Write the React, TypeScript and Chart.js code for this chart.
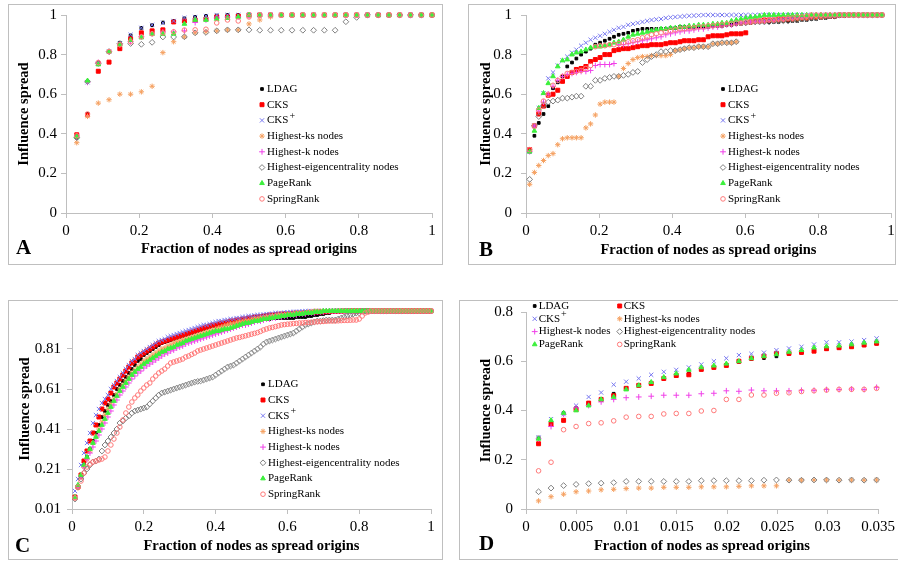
import React, { useEffect, useRef } from "react";
import { Chart, registerables } from "chart.js";
import { drawPoint } from "chart.js/helpers";

Chart.register(...registerables);

const FONT = '"Liberation Serif", "Times New Roman", serif';
const AXIS = "#bfbfbf";
Chart.defaults.font.family = FONT;

const SERIES_NAMES = [
  "LDAG",
  "CKS",
  "CKS+",
  "Highest-ks nodes",
  "Highest-k nodes",
  "Highest-eigencentrality nodes",
  "PageRank",
  "SpringRank",
];

type Marker = { style: string; r: number; color: string; fill: boolean };
const MARKERS: Marker[] = [
  { style: "rect", r: 1.9, color: "#000000", fill: true },
  { style: "rect", r: 2.8, color: "#ff0000", fill: true },
  { style: "crossRot", r: 3, color: "#7878f0", fill: false },
  { style: "star", r: 2.7, color: "#f5a060", fill: false },
  { style: "cross", r: 2.9, color: "#f040e8", fill: false },
  { style: "rectRot", r: 2.9, color: "#7f7f7f", fill: false },
  { style: "triangle", r: 2.7, color: "#3cf03c", fill: true },
  { style: "circle", r: 2.3, color: "#ff7878", fill: false },
];

const X_TITLE = "Fraction of nodes as spread origins";
const Y_TITLE = "Influence spread";

// ---------------- Panel A ----------------
const A_X = [0.0294, 0.0588, 0.0882, 0.1176, 0.1471, 0.1765, 0.2059, 0.2353, 0.2647, 0.2941,
  0.3235, 0.3529, 0.3824, 0.4118, 0.4412, 0.4706, 0.5, 0.5294, 0.5588, 0.5882,
  0.6176, 0.6471, 0.6765, 0.7059, 0.7353, 0.7647, 0.7941, 0.8235, 0.8529, 0.8824,
  0.9118, 0.9412, 0.9706, 1];
const A_LDAG = [0.38, 0.5, 0.757, 0.815, 0.86, 0.897, 0.935, 0.948, 0.962, 0.97,
  0.983, 0.99, 0.995, 0.997, 1, 1, 1, 1, 1, 1,
  1, 1, 1, 1, 1, 1, 1, 1, 1, 1,
  1, 1, 1, 1];
const A_CKS = [0.395, 0.495, 0.716, 0.762, 0.83, 0.88, 0.91, 0.92, 0.925, 0.965,
  0.97, 0.975, 0.98, 0.99, 0.99, 0.995, 1, 1, 1, 1,
  1, 1, 1, 1, 1, 1, 1, 1, 1, 1,
  1, 1, 1, 1];
const A_CKSP = [0.385, 0.66, 0.755, 0.815, 0.855, 0.9, 0.935, 0.95, 0.96, 0.97,
  0.985, 0.99, 0.995, 1, 1, 1, 1, 1, 1, 1,
  1, 1, 1, 1, 1, 1, 1, 1, 1, 1,
  1, 1, 1, 1];
const A_KS = [0.355, 0.488, 0.555, 0.572, 0.6, 0.6, 0.612, 0.64, 0.81, 0.865,
  0.89, 0.91, 0.915, 0.92, 0.925, 0.925, 0.955, 0.975, 0.99, 1,
  1, 1, 1, 1, 1, 1, 1, 1, 1, 1,
  1, 1, 1, 1];
const A_K = [0.385, 0.66, 0.76, 0.815, 0.85, 0.865, 0.89, 0.905, 0.915, 0.915,
  0.92, 0.962, 0.975, 0.985, 0.99, 0.99, 0.995, 1, 1, 1,
  1, 1, 1, 1, 1, 1, 1, 1, 1, 1,
  1, 1, 1, 1];
const A_EIG = [0.38, 0.665, 0.755, 0.815, 0.855, 0.856, 0.852, 0.862, 0.889, 0.889,
  0.89, 0.91, 0.912, 0.92, 0.925, 0.925, 0.925, 0.923, 0.923, 0.923,
  0.923, 0.923, 0.923, 0.923, 0.923, 0.966, 0.988, 1, 1, 1,
  1, 1, 1, 1];
const A_PR = [0.385, 0.668, 0.75, 0.815, 0.85, 0.874, 0.886, 0.904, 0.904, 0.905,
  0.955, 0.975, 0.975, 0.98, 0.985, 0.99, 1, 1, 1, 1,
  1, 1, 1, 1, 1, 1, 1, 1, 1, 1,
  1, 1, 1, 1];
const A_SR = [0.39, 0.5, 0.76, 0.815, 0.85, 0.865, 0.89, 0.905, 0.91, 0.915,
  0.924, 0.925, 0.928, 0.96, 0.975, 0.97, 0.99, 1, 1, 1,
  1, 1, 1, 1, 1, 1, 1, 1, 1, 1,
  1, 1, 1, 1];

// ---------------- Panel B ----------------
const B_X = [0.010, 0.023, 0.035, 0.048, 0.061, 0.074, 0.087, 0.100, 0.113, 0.126,
  0.138, 0.151, 0.164, 0.177, 0.190, 0.203, 0.216, 0.229, 0.241, 0.254,
  0.267, 0.280, 0.293, 0.306, 0.319, 0.332, 0.344, 0.357, 0.370, 0.383,
  0.396, 0.409, 0.422, 0.434, 0.447, 0.460, 0.473, 0.486, 0.499, 0.512,
  0.525, 0.537, 0.550, 0.563, 0.576, 0.589, 0.602, 0.615, 0.628, 0.640,
  0.653, 0.666, 0.679, 0.692, 0.705, 0.718, 0.730, 0.743, 0.756, 0.769,
  0.782, 0.795, 0.808, 0.821, 0.833, 0.846, 0.859, 0.872, 0.885, 0.898,
  0.911, 0.924, 0.936, 0.949, 0.962, 0.975];
const B_LDAG = [0.31, 0.39, 0.455, 0.50, 0.54, 0.63, 0.66, 0.69, 0.74, 0.76,
  0.78, 0.80, 0.815, 0.83, 0.85, 0.86, 0.87, 0.88, 0.89, 0.90,
  0.905, 0.91, 0.92, 0.925, 0.93, 0.93, 0.93, 0.93, 0.93, 0.93,
  0.935, 0.935, 0.94, 0.94, 0.94, 0.94, 0.94, 0.94, 0.94, 0.945,
  0.945, 0.945, 0.95, 0.95, 0.955, 0.955, 0.96, 0.96, 0.965, 0.965,
  0.965, 0.965, 0.965, 0.965, 0.97, 0.97, 0.97, 0.97, 0.975, 0.975,
  0.98, 0.98, 0.985, 0.985, 0.99, 0.99, 0.995, 0.995, 1, 1,
  1, 1, 1, 1, 1, 1];
const B_CKS = [0.32, 0.44, 0.50, 0.54, 0.595, 0.60, 0.62, 0.665, 0.69, 0.71,
  0.725, 0.73, 0.74, 0.765, 0.775, 0.785, 0.80, 0.80, 0.82, 0.825,
  0.83, 0.83, 0.835, 0.84, 0.845, 0.845, 0.85, 0.85, 0.85, 0.855,
  0.86, 0.86, 0.865, 0.87, 0.87, 0.87, 0.875, 0.875, 0.89, 0.895,
  0.895, 0.895, 0.90, 0.905, 0.905, 0.905, 0.91, 0.965, 0.97, 0.97,
  0.975, 0.975, 0.975, 0.98, 0.98, 0.98, 0.98, 0.985, 0.985, 0.985,
  0.99, 0.99, 0.99, 0.995, 0.995, 0.995, 1, 1, 1, 1,
  1, 1, 1, 1, 1, 1];
const B_CKSP = [0.31, 0.44, 0.53, 0.605, 0.68, 0.71, 0.745, 0.77, 0.79, 0.81,
  0.825, 0.845, 0.86, 0.875, 0.885, 0.895, 0.905, 0.915, 0.925, 0.935,
  0.94, 0.95, 0.955, 0.96, 0.965, 0.97, 0.975, 0.978, 0.98, 0.985,
  0.988, 0.99, 0.992, 0.994, 0.996, 0.997, 0.998, 1, 1, 1,
  1, 1, 1, 1, 1, 1, 1, 1, 1, 1,
  1, 1, 1, 1, 1, 1, 1, 1, 1, 1,
  1, 1, 1, 1, 1, 1, 1, 1, 1, 1,
  1, 1, 1, 1, 1, 1];
const B_KS = [0.145, 0.205, 0.24, 0.265, 0.29, 0.30, 0.345, 0.375, 0.38, 0.38,
  0.38, 0.38, 0.43, 0.45, 0.495, 0.55, 0.56, 0.56, 0.56, 0.69,
  0.73, 0.755, 0.775, 0.785, 0.79, 0.79, 0.795, 0.795, 0.795, 0.795,
  0.80, 0.82, 0.825, 0.83, 0.835, 0.835, 0.84, 0.84, 0.84, 0.855,
  0.855, 0.86, 0.86, 0.86, 0.865, 0.96, 0.96, 0.965, 0.965, 0.97,
  0.97, 0.975, 0.975, 0.975, 0.975, 0.98, 0.98, 0.98, 0.985, 0.985,
  0.99, 0.99, 0.99, 0.995, 0.995, 1, 1, 1, 1, 1,
  1, 1, 1, 1, 1, 1];
const B_K = [0.31, 0.44, 0.515, 0.56, 0.60, 0.64, 0.67, 0.69, 0.70, 0.705,
  0.71, 0.715, 0.715, 0.72, 0.745, 0.75, 0.75, 0.75, 0.755, 0.85,
  0.85, 0.855, 0.86, 0.865, 0.87, 0.875, 0.88, 0.885, 0.89, 0.90,
  0.905, 0.91, 0.915, 0.92, 0.92, 0.925, 0.93, 0.93, 0.935, 0.94,
  0.94, 0.945, 0.95, 0.95, 0.955, 0.96, 0.96, 0.965, 0.965, 0.97,
  0.97, 0.975, 0.975, 0.98, 0.98, 0.985, 0.985, 0.99, 0.99, 0.995,
  0.995, 1, 1, 1, 1, 1, 1, 1, 1, 1,
  1, 1, 1, 1, 1, 1];
const B_EIG = [0.17, 0.44, 0.487, 0.545, 0.56, 0.565, 0.57, 0.58, 0.58, 0.585,
  0.59, 0.59, 0.64, 0.64, 0.67, 0.67, 0.68, 0.685, 0.69, 0.69,
  0.695, 0.70, 0.71, 0.715, 0.76, 0.775, 0.79, 0.80, 0.815, 0.815,
  0.82, 0.82, 0.825, 0.83, 0.835, 0.835, 0.84, 0.84, 0.84, 0.855,
  0.855, 0.86, 0.86, 0.86, 0.865, 0.96, 0.96, 0.965, 0.965, 0.965,
  0.965, 0.965, 0.97, 0.97, 0.97, 0.97, 0.975, 0.975, 0.98, 0.98,
  0.985, 0.985, 0.99, 0.99, 0.995, 0.995, 1, 1, 1, 1,
  1, 1, 1, 1, 1, 1];
const B_PR = [0.31, 0.415, 0.53, 0.605, 0.655, 0.69, 0.74, 0.77, 0.775, 0.80,
  0.81, 0.815, 0.825, 0.835, 0.84, 0.84, 0.845, 0.85, 0.86, 0.865,
  0.875, 0.89, 0.90, 0.905, 0.91, 0.915, 0.92, 0.925, 0.93, 0.93,
  0.935, 0.935, 0.94, 0.94, 0.945, 0.945, 0.95, 0.95, 0.95, 0.955,
  0.955, 0.96, 0.96, 0.97, 0.975, 0.98, 0.985, 0.99, 0.99, 0.995,
  1, 1, 1, 1, 1, 1, 1, 1, 1, 1,
  1, 1, 1, 1, 1, 1, 1, 1, 1, 1,
  1, 1, 1, 1, 1, 1];
const B_SR = [0.32, 0.44, 0.52, 0.565, 0.60, 0.645, 0.67, 0.69, 0.705, 0.71,
  0.715, 0.72, 0.73, 0.745, 0.84, 0.845, 0.845, 0.85, 0.85, 0.855,
  0.86, 0.865, 0.87, 0.875, 0.885, 0.89, 0.90, 0.905, 0.91, 0.915,
  0.92, 0.925, 0.93, 0.93, 0.935, 0.935, 0.94, 0.94, 0.945, 0.945,
  0.95, 0.95, 0.955, 0.955, 0.96, 0.96, 0.965, 0.965, 0.97, 0.97,
  0.97, 0.975, 0.975, 0.98, 0.98, 0.985, 0.985, 0.99, 0.99, 0.995,
  1, 1, 1, 1, 1, 1, 1, 1, 1, 1,
  1, 1, 1, 1, 1, 1];

// ---------------- Panel C ----------------
const C_X = [0.0083, 0.0167, 0.025, 0.0333, 0.0417, 0.05, 0.0583, 0.0667, 0.075, 0.0833,
  0.0917, 0.1, 0.1083, 0.1167, 0.125, 0.1333, 0.1417, 0.15, 0.1583, 0.1667,
  0.175, 0.1833, 0.1917, 0.2, 0.2083, 0.2167, 0.225, 0.2333, 0.2417, 0.25,
  0.2583, 0.2667, 0.275, 0.2833, 0.2917, 0.3, 0.3083, 0.3167, 0.325, 0.3333,
  0.3417, 0.35, 0.3583, 0.3667, 0.375, 0.3833, 0.3917, 0.4, 0.4083, 0.4167,
  0.425, 0.4333, 0.4417, 0.45, 0.4583, 0.4667, 0.475, 0.4833, 0.4917, 0.5,
  0.5083, 0.5167, 0.525, 0.5333, 0.5417, 0.55, 0.5583, 0.5667, 0.575, 0.5833,
  0.5917, 0.6, 0.6083, 0.6167, 0.625, 0.6333, 0.6417, 0.65, 0.6583, 0.6667,
  0.675, 0.6833, 0.6917, 0.7, 0.7083, 0.7167, 0.725, 0.7333, 0.7417, 0.75,
  0.7583, 0.7667, 0.775, 0.7833, 0.7917, 0.8, 0.8083, 0.8167, 0.825, 0.8333,
  0.8417, 0.85, 0.8583, 0.8667, 0.875, 0.8833, 0.8917, 0.9, 0.9083, 0.9167,
  0.925, 0.9333, 0.9417, 0.95, 0.9583, 0.9667, 0.975, 0.9833, 0.9917, 1];
const C_LDAG = [0.07, 0.12, 0.17, 0.23, 0.27, 0.31, 0.35, 0.39, 0.43, 0.47,
  0.50, 0.53, 0.55, 0.58, 0.61, 0.63, 0.65, 0.67, 0.69, 0.71,
  0.73, 0.75, 0.76, 0.78, 0.79, 0.80, 0.81, 0.82, 0.83, 0.84,
  0.845, 0.85, 0.855, 0.86, 0.865, 0.87, 0.875, 0.88, 0.885, 0.89,
  0.895, 0.90, 0.905, 0.91, 0.915, 0.92, 0.925, 0.925, 0.93, 0.93,
  0.935, 0.935, 0.94, 0.94, 0.945, 0.945, 0.95, 0.95, 0.95, 0.955,
  0.955, 0.955, 0.96, 0.96, 0.96, 0.96, 0.965, 0.965, 0.965, 0.965,
  0.965, 0.965, 0.965, 0.965, 0.97, 0.97, 0.97, 0.97, 0.975, 0.975,
  0.98, 0.98, 0.985, 0.985, 0.99, 0.99, 0.995, 0.995, 1, 1,
  1, 1, 1, 1, 1, 1, 1, 1, 1, 1,
  1, 1, 1, 1, 1, 1, 1, 1, 1, 1,
  1, 1, 1, 1, 1, 1, 1, 1, 1, 1];
const C_CKS = [0.07, 0.12, 0.18, 0.25, 0.30, 0.35, 0.39, 0.43, 0.47, 0.51,
  0.54, 0.56, 0.59, 0.62, 0.64, 0.66, 0.68, 0.70, 0.72, 0.74,
  0.75, 0.77, 0.78, 0.79, 0.80, 0.81, 0.82, 0.83, 0.84, 0.845,
  0.85, 0.855, 0.86, 0.865, 0.87, 0.875, 0.88, 0.885, 0.89, 0.895,
  0.90, 0.905, 0.91, 0.915, 0.92, 0.925, 0.93, 0.93, 0.935, 0.94,
  0.94, 0.945, 0.95, 0.95, 0.955, 0.955, 0.96, 0.96, 0.965, 0.965,
  0.97, 0.97, 0.972, 0.975, 0.977, 0.98, 0.98, 0.982, 0.984, 0.985,
  0.986, 0.987, 0.988, 0.989, 0.99, 0.99, 0.991, 0.992, 0.993, 0.994,
  0.995, 0.995, 0.996, 0.996, 0.997, 0.997, 0.998, 0.998, 0.999, 0.999,
  1, 1, 1, 1, 1, 1, 1, 1, 1, 1,
  1, 1, 1, 1, 1, 1, 1, 1, 1, 1,
  1, 1, 1, 1, 1, 1, 1, 1, 1, 1];
const C_CKSP = [0.10, 0.16, 0.23, 0.29, 0.34, 0.39, 0.44, 0.48, 0.51, 0.54,
  0.56, 0.58, 0.61, 0.63, 0.65, 0.67, 0.69, 0.71, 0.73, 0.75,
  0.76, 0.78, 0.79, 0.80, 0.81, 0.82, 0.83, 0.84, 0.85, 0.855,
  0.86, 0.87, 0.875, 0.88, 0.885, 0.89, 0.895, 0.90, 0.905, 0.91,
  0.915, 0.92, 0.925, 0.93, 0.93, 0.935, 0.94, 0.945, 0.95, 0.95,
  0.955, 0.955, 0.96, 0.96, 0.965, 0.965, 0.97, 0.97, 0.975, 0.975,
  0.978, 0.98, 0.98, 0.982, 0.985, 0.985, 0.987, 0.99, 0.99, 0.99,
  0.992, 0.993, 0.994, 0.995, 0.996, 0.997, 0.998, 0.999, 1, 1,
  1, 1, 1, 1, 1, 1, 1, 1, 1, 1,
  1, 1, 1, 1, 1, 1, 1, 1, 1, 1,
  1, 1, 1, 1, 1, 1, 1, 1, 1, 1,
  1, 1, 1, 1, 1, 1, 1, 1, 1, 1];
const C_KS = [0.065, 0.115, 0.17, 0.22, 0.26, 0.30, 0.34, 0.375, 0.41, 0.445,
  0.48, 0.51, 0.535, 0.56, 0.585, 0.61, 0.63, 0.65, 0.67, 0.69,
  0.705, 0.72, 0.735, 0.75, 0.76, 0.77, 0.78, 0.79, 0.80, 0.81,
  0.815, 0.825, 0.83, 0.84, 0.845, 0.85, 0.855, 0.86, 0.865, 0.87,
  0.875, 0.88, 0.885, 0.89, 0.895, 0.90, 0.905, 0.91, 0.915, 0.92,
  0.925, 0.93, 0.935, 0.935, 0.94, 0.945, 0.945, 0.95, 0.95, 0.955,
  0.96, 0.96, 0.965, 0.965, 0.97, 0.97, 0.975, 0.975, 0.98, 0.98,
  0.98, 0.985, 0.985, 0.985, 0.99, 0.99, 0.99, 0.99, 0.995, 0.995,
  1, 1, 1, 1, 1, 1, 1, 1, 1, 1,
  1, 1, 1, 1, 1, 1, 1, 1, 1, 1,
  1, 1, 1, 1, 1, 1, 1, 1, 1, 1,
  1, 1, 1, 1, 1, 1, 1, 1, 1, 1];
const C_K = [0.07, 0.12, 0.17, 0.22, 0.26, 0.29, 0.32, 0.35, 0.38, 0.41,
  0.44, 0.47, 0.50, 0.53, 0.555, 0.58, 0.60, 0.62, 0.64, 0.66,
  0.675, 0.69, 0.70, 0.715, 0.725, 0.735, 0.745, 0.755, 0.765, 0.775,
  0.785, 0.79, 0.80, 0.805, 0.815, 0.82, 0.825, 0.835, 0.84, 0.845,
  0.85, 0.855, 0.86, 0.865, 0.87, 0.875, 0.88, 0.885, 0.89, 0.895,
  0.90, 0.905, 0.91, 0.915, 0.92, 0.925, 0.93, 0.93, 0.935, 0.94,
  0.945, 0.95, 0.95, 0.955, 0.96, 0.96, 0.965, 0.965, 0.97, 0.97,
  0.975, 0.975, 0.98, 0.98, 0.98, 0.985, 0.985, 0.985, 0.99, 0.99,
  0.99, 0.995, 0.995, 0.995, 1, 1, 1, 1, 1, 1,
  1, 1, 1, 1, 1, 1, 1, 1, 1, 1,
  1, 1, 1, 1, 1, 1, 1, 1, 1, 1,
  1, 1, 1, 1, 1, 1, 1, 1, 1, 1];
const C_EIG = [0.06, 0.12, 0.16, 0.19, 0.21, 0.23, 0.245, 0.25, 0.26, 0.30,
  0.33, 0.35, 0.37, 0.39, 0.41, 0.44, 0.45, 0.465, 0.475, 0.49,
  0.50, 0.505, 0.51, 0.515, 0.52, 0.535, 0.55, 0.565, 0.58, 0.59,
  0.595, 0.60, 0.605, 0.61, 0.615, 0.62, 0.625, 0.63, 0.635, 0.64,
  0.645, 0.648, 0.65, 0.655, 0.66, 0.665, 0.67, 0.68, 0.69, 0.70,
  0.71, 0.72, 0.725, 0.73, 0.74, 0.75, 0.76, 0.77, 0.78, 0.79,
  0.80, 0.81, 0.82, 0.835, 0.845, 0.85, 0.855, 0.86, 0.865, 0.87,
  0.875, 0.88, 0.885, 0.89, 0.90, 0.91, 0.92, 0.93, 0.935, 0.94,
  0.945, 0.95, 0.95, 0.952, 0.955, 0.955, 0.955, 0.955, 0.96, 0.965,
  0.97, 0.975, 0.98, 0.985, 0.99, 0.99, 1, 1, 1, 1,
  1, 1, 1, 1, 1, 1, 1, 1, 1, 1,
  1, 1, 1, 1, 1, 1, 1, 1, 1, 1];
const C_PR = [0.07, 0.13, 0.18, 0.23, 0.27, 0.31, 0.34, 0.37, 0.40, 0.43,
  0.46, 0.49, 0.52, 0.55, 0.575, 0.60, 0.62, 0.64, 0.66, 0.68,
  0.695, 0.71, 0.72, 0.735, 0.745, 0.755, 0.765, 0.775, 0.785, 0.795,
  0.80, 0.81, 0.815, 0.82, 0.83, 0.835, 0.84, 0.85, 0.855, 0.86,
  0.865, 0.87, 0.875, 0.88, 0.885, 0.89, 0.895, 0.90, 0.90, 0.905,
  0.91, 0.91, 0.915, 0.92, 0.925, 0.93, 0.935, 0.94, 0.94, 0.945,
  0.95, 0.95, 0.955, 0.96, 0.96, 0.965, 0.965, 0.97, 0.97, 0.975,
  0.975, 0.98, 0.98, 0.98, 0.985, 0.985, 0.985, 0.99, 0.99, 0.99,
  0.995, 0.995, 0.995, 1, 1, 1, 1, 1, 1, 1,
  1, 1, 1, 1, 1, 1, 1, 1, 1, 1,
  1, 1, 1, 1, 1, 1, 1, 1, 1, 1,
  1, 1, 1, 1, 1, 1, 1, 1, 1, 1];
const C_SR = [0.065, 0.12, 0.15, 0.19, 0.22, 0.235, 0.245, 0.25, 0.255, 0.26,
  0.27, 0.30, 0.33, 0.36, 0.39, 0.42, 0.455, 0.49, 0.52, 0.545,
  0.565, 0.58, 0.60, 0.615, 0.63, 0.64, 0.66, 0.675, 0.69, 0.70,
  0.71, 0.725, 0.74, 0.745, 0.75, 0.755, 0.76, 0.77, 0.775, 0.783,
  0.79, 0.80, 0.805, 0.81, 0.815, 0.82, 0.825, 0.83, 0.835, 0.84,
  0.845, 0.85, 0.855, 0.86, 0.865, 0.868, 0.872, 0.876, 0.88, 0.884,
  0.888, 0.892, 0.898, 0.905, 0.91, 0.915, 0.918, 0.922, 0.926, 0.93,
  0.932, 0.934, 0.935, 0.937, 0.938, 0.94, 0.94, 0.942, 0.943, 0.944,
  0.945, 0.946, 0.947, 0.948, 0.949, 0.95, 0.95, 0.95, 0.951, 0.952,
  0.953, 0.953, 0.954, 0.955, 0.955, 0.96, 0.975, 0.99, 0.995, 1,
  1, 1, 1, 1, 1, 1, 1, 1, 1, 1,
  1, 1, 1, 1, 1, 1, 1, 1, 1, 1];

// ---------------- Panel D ----------------
const D_X = [0.00125, 0.00249, 0.00374, 0.00498, 0.00623, 0.00747, 0.00872, 0.00996, 0.01121, 0.01245,
  0.0137, 0.01494, 0.01619, 0.01743, 0.01868, 0.01992, 0.02117, 0.02241, 0.02366, 0.0249,
  0.02615, 0.02739, 0.02864, 0.02988, 0.03113, 0.03237, 0.03362, 0.03486];
const D_LDAG = [0.29, 0.35, 0.39, 0.41, 0.43, 0.445, 0.468, 0.49, 0.502, 0.51,
  0.53, 0.54, 0.55, 0.567, 0.575, 0.585, 0.598, 0.61, 0.613, 0.62,
  0.63, 0.635, 0.645, 0.65, 0.655, 0.66, 0.665, 0.672];
const D_CKS = [0.265, 0.345, 0.36, 0.405, 0.43, 0.445, 0.46, 0.49, 0.502, 0.51,
  0.53, 0.542, 0.545, 0.567, 0.575, 0.583, 0.60, 0.612, 0.621, 0.632,
  0.632, 0.636, 0.641, 0.651, 0.655, 0.659, 0.666, 0.673];
const D_CKSP = [0.29, 0.365, 0.385, 0.42, 0.455, 0.473, 0.505, 0.517, 0.53, 0.545,
  0.557, 0.565, 0.575, 0.587, 0.60, 0.612, 0.625, 0.63, 0.635, 0.645,
  0.652, 0.659, 0.668, 0.677, 0.677, 0.68, 0.686, 0.693];
const D_KS = [0.033, 0.05, 0.06, 0.07, 0.073, 0.078, 0.08, 0.083, 0.085, 0.085,
  0.088, 0.088, 0.088, 0.09, 0.09, 0.09, 0.092, 0.094, 0.094, 0.094,
  0.117, 0.117, 0.118, 0.118, 0.117, 0.118, 0.117, 0.118];
const D_K = [0.285, 0.335, 0.385, 0.41, 0.42, 0.435, 0.445, 0.452, 0.455, 0.458,
  0.462, 0.462, 0.462, 0.468, 0.47, 0.48, 0.478, 0.483, 0.48, 0.48,
  0.48, 0.482, 0.482, 0.485, 0.485, 0.487, 0.485, 0.494];
const D_EIG = [0.07, 0.085, 0.095, 0.10, 0.103, 0.105, 0.107, 0.112, 0.112, 0.112,
  0.112, 0.112, 0.112, 0.115, 0.115, 0.115, 0.115, 0.115, 0.117, 0.118,
  0.117, 0.117, 0.118, 0.118, 0.117, 0.118, 0.117, 0.118];
const D_PR = [0.285, 0.36, 0.39, 0.40, 0.42, 0.445, 0.455, 0.485, 0.502, 0.515,
  0.535, 0.55, 0.565, 0.575, 0.582, 0.59, 0.60, 0.612, 0.62, 0.628,
  0.638, 0.645, 0.655, 0.66, 0.663, 0.668, 0.675, 0.68];
const D_SR = [0.155, 0.19, 0.322, 0.335, 0.347, 0.35, 0.358, 0.373, 0.376, 0.376,
  0.386, 0.388, 0.388, 0.398, 0.40, 0.445, 0.445, 0.463, 0.463, 0.47,
  0.472, 0.477, 0.48, 0.483, 0.486, 0.486, 0.486, 0.49];

// tick values
const TICKS_UNIT = [0, 0.2, 0.4, 0.6, 0.8, 1];
const TICKS_C_Y = [0.01, 0.21, 0.41, 0.61, 0.81];
const TICKS_D_X = [0, 0.005, 0.01, 0.015, 0.02, 0.025, 0.03, 0.035];
const TICKS_D_Y = [0, 0.2, 0.4, 0.6, 0.8];

type PanelCfg = {
  box: { l: number; t: number; w: number; h: number };
  yAxisW: number;
  xAxisH: number;
  padTop: number;
  padRight: number;
  xMin: number;
  xMax: number;
  xTicks: number[];
  yMin: number;
  yMax: number;
  yTicks: number[];
  yTickPad: number;
  xTickPad: number;
  yTitlePad: number;
  xTitlePad: number;
  legend: { x: number; y: number; rowH: number; cols: number; colW: number; dx: number };
  letter: { text: string; x: number; y: number };
  xs: number[];
  series: number[][];
};

const PANELS: PanelCfg[] = [
  {
    box: { l: 8, t: 4, w: 435, h: 261 },
    yAxisW: 58, xAxisH: 52, padTop: 11, padRight: 11,
    xMin: 0, xMax: 1, xTicks: TICKS_UNIT, yMin: 0, yMax: 1, yTicks: TICKS_UNIT,
    yTickPad: 4, xTickPad: 4, yTitlePad: 8, xTitlePad: 7,
    legend: { x: 254, y: 85, rowH: 15.7, cols: 1, colW: 0, dx: 5 },
    letter: { text: "A", x: 8, y: 250 },
    xs: A_X, series: [A_LDAG, A_CKS, A_CKSP, A_KS, A_K, A_EIG, A_PR, A_SR],
  },
  {
    box: { l: 468, t: 4, w: 428, h: 261 },
    yAxisW: 58, xAxisH: 52, padTop: 11, padRight: 5,
    xMin: 0, xMax: 1, xTicks: TICKS_UNIT, yMin: 0, yMax: 1, yTicks: TICKS_UNIT,
    yTickPad: 9, xTickPad: 4, yTitlePad: 9.5, xTitlePad: 6,
    legend: { x: 255, y: 85, rowH: 15.7, cols: 1, colW: 0, dx: 5 },
    letter: { text: "B", x: 11, y: 252 },
    xs: B_X, series: [B_LDAG, B_CKS, B_CKSP, B_KS, B_K, B_EIG, B_PR, B_SR],
  },
  {
    box: { l: 8, t: 300, w: 435, h: 260 },
    yAxisW: 64, xAxisH: 51, padTop: 9, padRight: 12,
    xMin: 0, xMax: 1, xTicks: TICKS_UNIT, yMin: 0.01, yMax: 1.01, yTicks: TICKS_C_Y,
    yTickPad: 6, xTickPad: 4, yTitlePad: 9, xTitlePad: 5,
    legend: { x: 255, y: 84.3, rowH: 15.7, cols: 1, colW: 0, dx: 5 },
    letter: { text: "C", x: 7, y: 252 },
    xs: C_X, series: [C_LDAG, C_CKS, C_CKSP, C_KS, C_K, C_EIG, C_PR, C_SR],
  },
  {
    box: { l: 459, t: 300, w: 441, h: 260 },
    yAxisW: 67, xAxisH: 51, padTop: 12, padRight: 22,
    xMin: 0, xMax: 0.035, xTicks: TICKS_D_X, yMin: 0, yMax: 0.8, yTicks: TICKS_D_Y,
    yTickPad: 8, xTickPad: 4, yTitlePad: 18.5, xTitlePad: 5,
    legend: { x: 75.7, y: 6, rowH: 12.8, cols: 2, colW: 85, dx: 4 },
    letter: { text: "D", x: 20, y: 250 },
    xs: D_X, series: [D_LDAG, D_CKS, D_CKSP, D_KS, D_K, D_EIG, D_PR, D_SR],
  },
];

const fmt = (v: number) => String(parseFloat(v.toFixed(4)));

function makeDecor(cfg: PanelCfg) {
  return {
    id: "decor",
    afterDraw(chart: any) {
      const ctx = chart.ctx as CanvasRenderingContext2D;
      const L = cfg.legend;
      ctx.save();
      SERIES_NAMES.forEach((name, i) => {
        const col = i % L.cols;
        const row = Math.floor(i / L.cols);
        const x = L.x + col * L.colW;
        const y = L.y + row * L.rowH;
        const m = MARKERS[i];
        ctx.lineWidth = 1;
        ctx.strokeStyle = m.color;
        ctx.fillStyle = m.fill ? m.color : "rgba(0,0,0,0)";
        drawPoint(ctx, { pointStyle: m.style as any, radius: m.r, borderWidth: 1, rotation: 0 } as any, x, y);
        ctx.fillStyle = "#000";
        ctx.textAlign = "left";
        ctx.textBaseline = "middle";
        ctx.font = `11px ${FONT}`;
        const tx = x + L.dx;
        if (name === "CKS+") {
          ctx.fillText("CKS", tx, y);
          const w = ctx.measureText("CKS").width;
          ctx.font = `10px ${FONT}`;
          ctx.fillText("+", tx + w + 1, y - 4);
        } else {
          ctx.fillText(name, tx, y);
        }
      });
      ctx.font = `bold 21px ${FONT}`;
      ctx.fillStyle = "#000";
      ctx.textAlign = "left";
      ctx.textBaseline = "alphabetic";
      ctx.fillText(cfg.letter.text, cfg.letter.x, cfg.letter.y);
      ctx.restore();
    },
  };
}

function Panel({ cfg }: { cfg: PanelCfg }) {
  const ref = useRef<HTMLCanvasElement | null>(null);
  useEffect(() => {
    const canvas = ref.current;
    if (!canvas) return;
    const datasets = cfg.series.map((ys, i) => {
      const m = MARKERS[i];
      return {
        label: SERIES_NAMES[i],
        data: cfg.xs.map((x, j) => ({ x, y: ys[j] })),
        pointStyle: m.style,
        pointRadius: m.r,
        pointBorderWidth: 1,
        pointBackgroundColor: m.fill ? m.color : "rgba(0,0,0,0)",
        pointBorderColor: m.color,
        showLine: false,
        clip: false,
        order: SERIES_NAMES.length - i,
      };
    });
    const chart = new Chart(canvas, {
      type: "scatter",
      data: { datasets } as any,
      options: {
        responsive: false,
        animation: false,
        devicePixelRatio: 1,
        events: [],
        layout: { padding: { top: cfg.padTop, right: cfg.padRight, left: 0, bottom: 0 } },
        plugins: { legend: { display: false }, tooltip: { enabled: false } },
        scales: {
          x: {
            type: "linear",
            position: "bottom",
            min: cfg.xMin,
            max: cfg.xMax,
            afterBuildTicks: (s: any) => {
              s.ticks = cfg.xTicks.map((v) => ({ value: v }));
            },
            afterFit: (s: any) => {
              s.height = cfg.xAxisH;
              s.paddingLeft = 0;
              s.paddingRight = 0;
            },
            grid: { drawOnChartArea: false, drawTicks: true, tickLength: 5, color: AXIS, lineWidth: 1 },
            border: { display: true, color: AXIS, width: 1 },
            ticks: {
              color: "#000",
              font: { size: 15, family: FONT },
              padding: cfg.xTickPad,
              maxRotation: 0,
              autoSkip: false,
              callback: (v: any) => fmt(Number(v)),
            },
            title: {
              display: true,
              text: X_TITLE,
              color: "#000",
              font: { size: 14.5, weight: "bold", family: FONT },
              padding: { top: 0, bottom: cfg.xTitlePad },
            },
          },
          y: {
            type: "linear",
            position: "left",
            min: cfg.yMin,
            max: cfg.yMax,
            afterBuildTicks: (s: any) => {
              s.ticks = cfg.yTicks.map((v) => ({ value: v }));
            },
            afterFit: (s: any) => {
              s.width = cfg.yAxisW;
              s.paddingTop = 0;
              s.paddingBottom = 0;
            },
            grid: { drawOnChartArea: false, drawTicks: true, tickLength: 5, color: AXIS, lineWidth: 1 },
            border: { display: true, color: AXIS, width: 1 },
            ticks: {
              color: "#000",
              font: { size: 15, family: FONT },
              padding: cfg.yTickPad,
              autoSkip: false,
              callback: (v: any) => fmt(Number(v)),
            },
            title: {
              display: true,
              text: Y_TITLE,
              color: "#000",
              font: { size: 14.5, weight: "bold", family: FONT },
              padding: { top: cfg.yTitlePad, bottom: 0 },
            },
          },
        },
      } as any,
      plugins: [makeDecor(cfg)],
    });
    return () => chart.destroy();
  }, [cfg]);

  const { l, t, w, h } = cfg.box;
  return (
    <div style={{ position: "absolute", left: l, top: t, width: w, height: h }}>
      <canvas ref={ref} width={w} height={h} style={{ position: "absolute", left: 0, top: 0, width: w, height: h }} />
      <div
        style={{
          position: "absolute",
          left: 0,
          top: 0,
          width: w,
          height: h,
          border: `1px solid ${AXIS}`,
          boxSizing: "border-box",
          pointerEvents: "none",
        }}
      />
    </div>
  );
}

export default function App() {
  return (
    <div
      style={{
        position: "absolute",
        left: 0,
        top: 0,
        width: 898,
        height: 562,
        overflow: "hidden",
        background: "#ffffff",
      }}
    >
      {PANELS.map((p, i) => (
        <Panel key={i} cfg={p} />
      ))}
    </div>
  );
}
